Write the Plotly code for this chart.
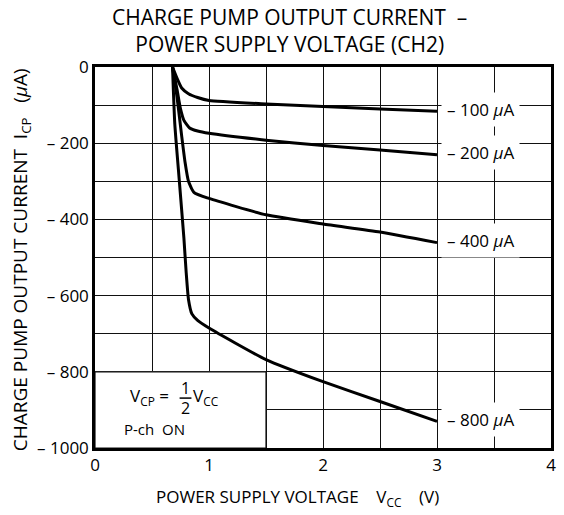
import plotly.graph_objects as go

# Data
x_100 = [0.68, 0.72, 0.76, 0.82, 0.9, 1.0, 1.5, 2.0, 2.5, 3.0]
y_100 = [0, -30, -55, -70, -80, -88, -97, -104, -110, -116]

x_200 = [0.68, 0.72, 0.75, 0.78, 0.83, 0.9, 1.0, 1.5, 2.0, 2.5, 3.0]
y_200 = [0, -60, -110, -140, -160, -168, -174, -192, -206, -218, -230]

x_400 = [0.68, 0.72, 0.76, 0.79, 0.82, 0.87, 1.0, 1.5, 2.0, 2.5, 3.0]
y_400 = [0, -80, -180, -250, -300, -330, -345, -388, -412, -433, -461]

x_800 = [0.68, 0.70, 0.74, 0.78, 0.80, 0.82, 0.85, 0.9, 1.0, 1.5, 2.0, 2.5, 3.0]
y_800 = [0, -150, -300, -450, -540, -610, -648, -665, -685, -768, -826, -878, -930]

series_labels = ["– 100 <i>μ</i>A", "– 200 <i>μ</i>A", "– 400 <i>μ</i>A", "– 800 <i>μ</i>A"]

x_tickvals = [0, 1, 2, 3, 4]
x_ticktext = ["0", "1", "2", "3", "4"]
y_tickvals = [0, -200, -400, -600, -800, -1000]
y_ticktext = ["0", "– 200", "– 400", "– 600", "– 800", "– 1000"]

FONT = "Open Sans"
LINE = "#000000"
GRID = "#111111"

fig = go.Figure()
for xs, ys in [(x_100, y_100), (x_200, y_200), (x_400, y_400), (x_800, y_800)]:
    fig.add_trace(go.Scatter(x=xs, y=ys, mode="lines",
                             line=dict(color="black", width=3, shape="spline", smoothing=0.5),
                             showlegend=False, hoverinfo="skip"))

# curve-end labels
for xs, ys, lab in [(x_100, y_100, series_labels[0]), (x_200, y_200, series_labels[1]),
                    (x_400, y_400, series_labels[2]), (x_800, y_800, series_labels[3])]:
    fig.add_annotation(x=xs[-1], y=ys[-1], text=lab, showarrow=False, xanchor="left",
                       xshift=4, yshift=2, bgcolor="white", borderpad=5,
                       font=dict(family=FONT, size=17, color="black"))

# white box for the condition note (covers grid)
fig.add_shape(type="rect", x0=0, x1=1.5, y0=-1000, y1=-800, xref="x", yref="y",
              fillcolor="white", line=dict(color=GRID, width=1.2), layer="between")

fig.add_annotation(x=0.665, y=-866, text="V<sub>CP</sub> =", showarrow=False, xanchor="right",
                   font=dict(family=FONT, size=17, color="black"))
fig.add_annotation(x=0.794, y=-842, text="1", showarrow=False,
                   font=dict(family=FONT, size=16, color="black"))
fig.add_annotation(x=0.794, y=-896, text="2", showarrow=False,
                   font=dict(family=FONT, size=16, color="black"))
fig.add_shape(type="line", x0=0.742, x1=0.846, y0=-869, y1=-869, xref="x", yref="y",
              line=dict(color="black", width=1.5))
fig.add_annotation(x=0.84, y=-866, text="V<sub>CC</sub>", showarrow=False, xanchor="left",
                   font=dict(family=FONT, size=17, color="black"))
fig.add_annotation(x=0.235, y=-950, text="P-ch  ON", showarrow=False, xanchor="left",
                   font=dict(family=FONT, size=15, color="black"))

# titles
fig.add_annotation(xref="paper", yref="paper", x=0.427, y=1.0, yshift=7,
                   text="CHARGE PUMP OUTPUT CURRENT  –<br>POWER SUPPLY VOLTAGE (CH2)",
                   showarrow=False, yanchor="bottom",
                   font=dict(family=FONT, size=21, color="black"))
fig.add_annotation(xref="paper", yref="paper", x=0.445, y=0, yshift=-49,
                   text="POWER SUPPLY VOLTAGE    V<sub>CC</sub>    (V)",
                   showarrow=False, yanchor="middle",
                   font=dict(family=FONT, size=17, color="black"))
fig.add_annotation(xref="paper", yref="paper", x=0, xshift=-74, y=0.493,
                   text="CHARGE PUMP OUTPUT CURRENT  I<sub>CP</sub>   (<i>μ</i>A)",
                   showarrow=False, textangle=-90, xanchor="center",
                   font=dict(family=FONT, size=19, color="black"))

axis_common = dict(showline=True, linecolor=LINE, linewidth=2.5, mirror=True,
                   showgrid=True, gridcolor=GRID, gridwidth=1.2, zeroline=False,
                   ticks="", tickfont=dict(family=FONT, size=17, color="black"))

fig.update_xaxes(range=[0, 4], tickvals=x_tickvals, ticktext=x_ticktext,
                 minor=dict(dtick=0.5, showgrid=True, gridcolor=GRID, gridwidth=1.2),
                 **axis_common)
fig.update_yaxes(range=[-1000, 0], tickvals=y_tickvals, ticktext=y_ticktext,
                 minor=dict(dtick=100, showgrid=True, gridcolor=GRID, gridwidth=1.2),
                 **axis_common)

fig.update_layout(width=564, height=515, margin=dict(l=95, r=8, t=67, b=67),
                  plot_bgcolor="white", paper_bgcolor="white",
                  font=dict(family=FONT, color="black"))

fig.write_html("out.html", config={"displayModeBar": False},
               post_script="document.body.style.margin='0';document.body.style.overflow='hidden';")
